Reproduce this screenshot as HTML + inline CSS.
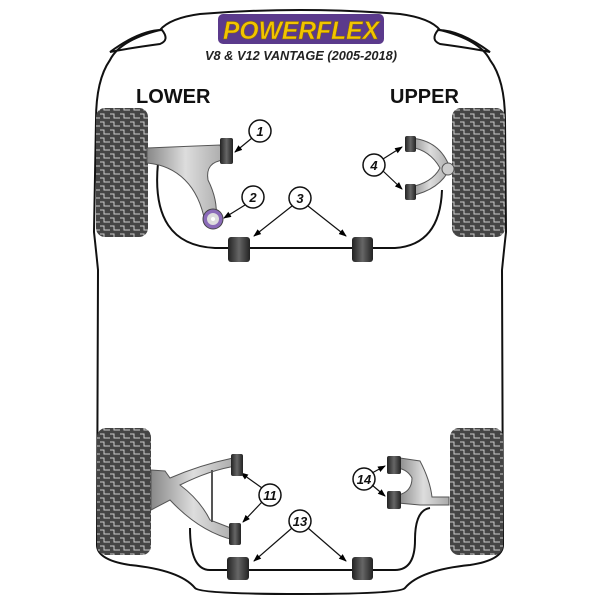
<!DOCTYPE html>
<html><head><style>
html,body{margin:0;padding:0;background:#fff;}
svg{display:block;}
text{font-family:"Liberation Sans",sans-serif;}
</style></head><body>
<svg width="600" height="600" viewBox="0 0 600 600" xmlns="http://www.w3.org/2000/svg">
<defs>
<pattern id="tread" width="10" height="8" patternUnits="userSpaceOnUse">
<rect width="10" height="8" fill="#444"/>
<path d="M0 2 H4 V6 H10" stroke="#ccc" stroke-width="1" fill="none"/>
</pattern>
<linearGradient id="arm" x1="0" x2="1"><stop offset="0" stop-color="#888"/><stop offset=".5" stop-color="#ddd"/><stop offset="1" stop-color="#aaa"/></linearGradient>
<linearGradient id="bush" x1="0" x2="1"><stop offset="0" stop-color="#222"/><stop offset=".5" stop-color="#666"/><stop offset="1" stop-color="#222"/></linearGradient>
<marker id="ah" markerWidth="8" markerHeight="8" refX="7" refY="4" orient="auto" markerUnits="userSpaceOnUse"><path d="M0 1 L8 4 L0 7Z" fill="#000"/></marker>
</defs>
<path d="M200 14 Q300 6 400 14 Q430 18 440 30 Q480 40 490 60 Q505 80 505 120 L506 232 Q504 250 502 270 L503 545 Q503 560 470 565 Q420 570 405 588 Q400 594 300 594 Q200 594 195 588 Q180 570 130 565 Q97 560 97 545 L98 270 Q96 250 94 232 L96 120 Q96 80 110 60 Q120 40 160 30 Q170 18 200 14Z" fill="none" stroke="#111" stroke-width="2"/>
<path d="M110 52 Q140 30 162 30 Q170 40 160 44 Q130 48 110 52Z" fill="none" stroke="#111" stroke-width="2"/>
<path d="M490 52 Q460 30 438 30 Q430 40 440 44 Q470 48 490 52Z" fill="none" stroke="#111" stroke-width="2"/>
<rect x="218" y="14" width="166" height="30" rx="5" fill="#5b3a8c"/>
<text x="301" y="39" text-anchor="middle" font-size="25" font-weight="bold" font-style="italic" fill="#f2c400" stroke="#8a6d00" stroke-width=".5" textLength="156" lengthAdjust="spacingAndGlyphs">POWERFLEX</text>
<text x="301" y="60" text-anchor="middle" font-size="13" font-weight="bold" font-style="italic" fill="#222" textLength="192" lengthAdjust="spacingAndGlyphs">V8 &amp; V12 VANTAGE (2005-2018)</text>
<text x="136" y="103" font-size="20" font-weight="bold" fill="#111">LOWER</text>
<text x="390" y="103" font-size="20" font-weight="bold" fill="#111">UPPER</text>
<rect x="96" y="108" width="52" height="129" rx="9" fill="url(#tread)"/>
<rect x="452" y="108" width="53" height="129" rx="9" fill="url(#tread)"/>
<rect x="97" y="428" width="54" height="127" rx="9" fill="url(#tread)"/>
<rect x="450" y="428" width="53" height="127" rx="9" fill="url(#tread)"/>
<path d="M158 163 Q150 245 215 248 L395 248 Q440 245 442 190" fill="none" stroke="#111" stroke-width="2"/>
<path d="M147 148 L220 145 L224 160 Q205 162 208 180 Q218 200 216 218 L205 222 Q200 195 185 180 Q170 165 147 163Z" fill="url(#arm)" stroke="#555" stroke-width="1"/>
<rect x="220" y="138" width="13" height="26" rx="2" fill="url(#bush)"/>
<circle cx="213" cy="219" r="10" fill="#8a6ab8" stroke="#444"/>
<circle cx="213" cy="219" r="6" fill="#ddd"/>
<circle cx="213" cy="219" r="2" fill="#fff"/>
<path d="M410 138 Q440 140 450 168 Q440 190 410 196 L410 187 Q432 183 440 168 Q430 150 410 147Z" fill="url(#arm)" stroke="#555"/>
<circle cx="448" cy="169" r="6" fill="#ccc" stroke="#555"/>
<rect x="405" y="136" width="11" height="16" rx="2" fill="url(#bush)"/>
<rect x="405" y="184" width="11" height="16" rx="2" fill="url(#bush)"/>
<rect x="228" y="237" width="22" height="25" rx="3" fill="url(#bush)"/>
<rect x="352" y="237" width="21" height="25" rx="3" fill="url(#bush)"/>
<g fill="#fff" stroke="#111" stroke-width="1.5">
<circle cx="260" cy="131" r="11"/><circle cx="253" cy="197" r="11"/><circle cx="300" cy="198" r="11"/><circle cx="374" cy="165" r="11"/>
<circle cx="270" cy="495" r="11"/><circle cx="300" cy="521" r="11"/><circle cx="364" cy="479" r="11"/>
</g>
<g font-size="13" font-weight="bold" font-style="italic" text-anchor="middle" fill="#111">
<text x="260" y="136">1</text><text x="253" y="202">2</text><text x="300" y="203">3</text><text x="374" y="170">4</text>
<text x="270" y="500">11</text><text x="300" y="526">13</text><text x="364" y="484">14</text>
</g>
<g stroke="#111" stroke-width="1.2" marker-end="url(#ah)">
<line x1="252" y1="138" x2="235" y2="152"/>
<line x1="245" y1="205" x2="224" y2="218"/>
<line x1="292" y1="206" x2="254" y2="236"/>
<line x1="308" y1="206" x2="346" y2="236"/>
<line x1="383" y1="159" x2="402" y2="147"/>
<line x1="383" y1="171" x2="402" y2="189"/>
<line x1="262" y1="488" x2="241" y2="473"/>
<line x1="262" y1="502" x2="243" y2="522"/>
<line x1="292" y1="528" x2="254" y2="561"/>
<line x1="308" y1="528" x2="346" y2="561"/>
<line x1="372" y1="473" x2="385" y2="466"/>
<line x1="372" y1="485" x2="385" y2="496"/>
</g>
<path d="M190 528 Q190 570 210 570 L395 570 Q415 570 415 540 Q415 510 430 508" fill="none" stroke="#111" stroke-width="2"/>
<path d="M151 470 L165 471 L170 478 Q200 465 233 458 L236 466 Q210 470 180 485 Q200 500 210 520 L236 530 L234 540 Q200 532 170 500 L151 510Z" fill="url(#arm)" stroke="#555"/>
<line x1="212" y1="470" x2="212" y2="522" stroke="#555" stroke-width="2"/>
<rect x="231" y="454" width="12" height="22" rx="2" fill="url(#bush)"/>
<rect x="229" y="523" width="12" height="22" rx="2" fill="url(#bush)"/>
<path d="M400 458 L420 461 Q430 480 432 497 L449 497 L449 505 L420 505 L398 503 L398 495 Q412 492 412 478 Q408 470 398 468Z" fill="url(#arm)" stroke="#555"/>
<rect x="387" y="456" width="14" height="18" rx="2" fill="url(#bush)"/>
<rect x="387" y="491" width="14" height="18" rx="2" fill="url(#bush)"/>
<rect x="227" y="557" width="22" height="23" rx="3" fill="url(#bush)"/>
<rect x="352" y="557" width="21" height="23" rx="3" fill="url(#bush)"/>
</svg>
</body></html>
